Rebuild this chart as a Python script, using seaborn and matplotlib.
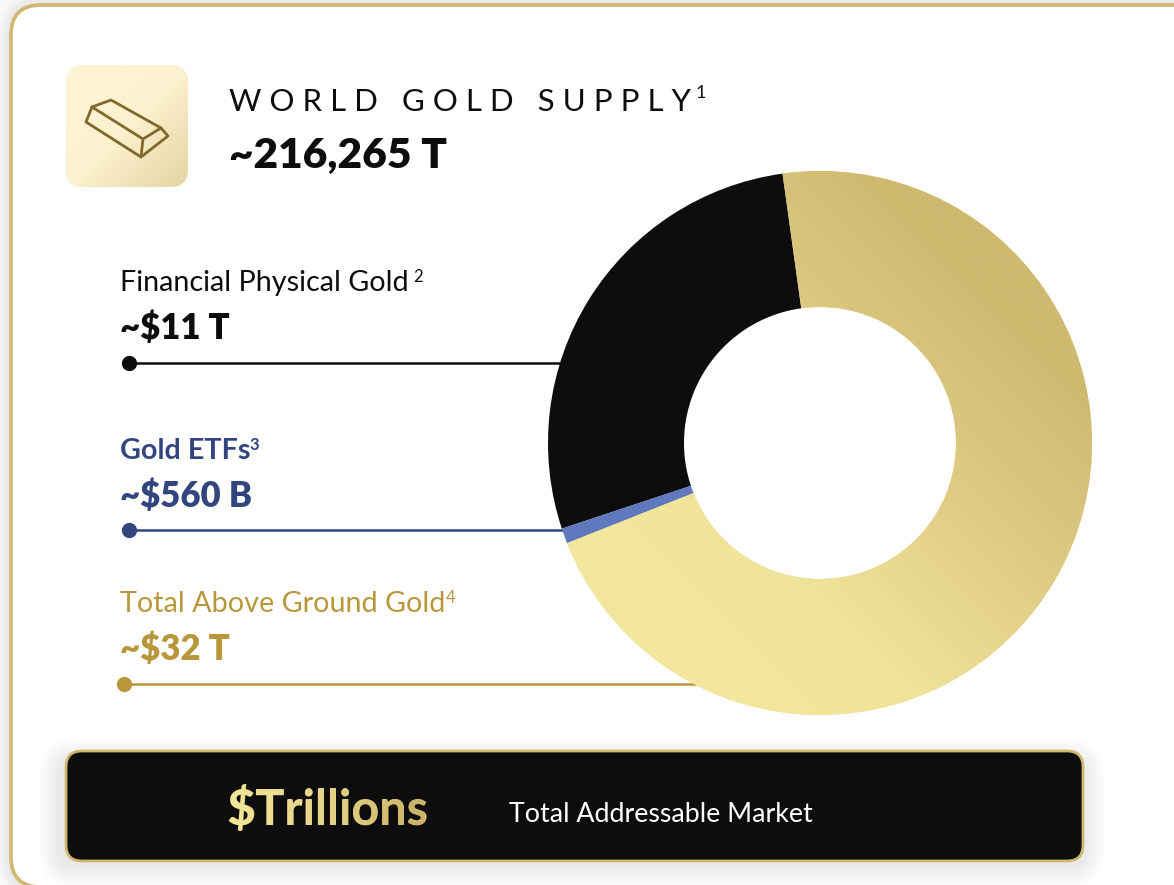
import numpy as np
import seaborn as sns
import matplotlib.pyplot as plt
from matplotlib.patches import FancyBboxPatch, PathPatch
from matplotlib.textpath import TextPath
from matplotlib.font_manager import FontProperties
from matplotlib.transforms import Affine2D

# share of the ring (percent)
segments = ['Total Above Ground Gold', 'Financial Physical Gold', 'Gold ETFs']
shares = [71.2, 27.9, 0.9]
segment_colors = ['#E6D48C', '#0D0D0D', '#5F78BE']

labels = ['Financial Physical Gold', 'Gold ETFs', 'Total Above Ground Gold']
label_values = ['~$11 T', '~$560 B', '~$32 T']
label_notes = ['2', '3', '4']

title = 'W O R L D   G O L D   S U P P L Y'
title_value = '~216,265 T'

GOLD = '#D0B96F'
NAVY = '#33457F'
DARK_GOLD = '#B8973B'
BLACK = '#0D0D0D'

sns.set_theme(style='white')
plt.rcParams['font.family'] = ['Lato', 'DejaVu Sans']

W, H = 1174, 885
fig = plt.figure(figsize=(W / 100, H / 100), dpi=100, facecolor='#F8F8F8')
ax = fig.add_axes([0, 0, 1, 1])
ax.set_xlim(0, W)
ax.set_ylim(H, 0)
ax.axis('off')


def rounded(x0, y0, x1, y1, r, **kw):
    p = FancyBboxPatch((x0 + r, y0 + r), x1 - x0 - 2 * r, y1 - y0 - 2 * r,
                       boxstyle=f'round,pad={r},rounding_size={r}', **kw)
    ax.add_patch(p)
    return p


def soft_shadow(x0, y0, x1, y1, r, spread, alpha, zorder):
    for i in range(spread, 0, -2):
        rounded(x0 - i, y0 - i, x1 + i, y1 + i, r + i, fc='black', ec='none',
                alpha=alpha, zorder=zorder)


def diagonal(n=200):
    xx, yy = np.meshgrid(np.linspace(0, 1, n), np.linspace(0, 1, n))
    return xx + yy


# card
soft_shadow(11, 5, 1400, 887, 30, 12, 0.012, 1)
rounded(11, 5, 1400, 887, 30, fc='white', ec=GOLD, lw=2.6, zorder=2)

# icon
icon_cmap = sns.blend_palette(['#FFF5D6', '#FDF1CF', '#E2D4A3'], as_cmap=True)
icon_box = rounded(66, 65, 188, 187, 18, fc='#F6ECC8', ec='none', zorder=3)
im = ax.imshow(diagonal(), cmap=icon_cmap, extent=(66, 188, 187, 65), aspect='auto', zorder=3.1)
im.set_clip_path(icon_box)
bar_x = [92, 111, 161, 168, 141, 86, 92, 143, 161]
bar_y = [107, 100, 128, 136, 157, 122, 107, 139, 128]
ax.plot(bar_x, bar_y, color='#7F6A2C', lw=2, zorder=4, solid_joinstyle='round')
ax.plot([143, 141], [139, 157], color='#7F6A2C', lw=2, zorder=4)

# heading
ax.text(229, 111, title, fontsize=22.5, color=BLACK, va='baseline', zorder=5)
ax.text(696, 98, '1', fontsize=13, color=BLACK, va='baseline', zorder=5)
ax.text(229, 168, title_value, fontsize=30.5, fontweight=800, color=BLACK, va='baseline', zorder=5)

# labels and leader lines
label_colors = [BLACK, NAVY, DARK_GOLD]
label_weights = ['normal', 'bold', 'normal']
note_weights = ['normal', 'bold', 'normal']
label_base = [291, 459, 612]
value_base = [339, 507, 660]
note_x = [413, 249, 446]
line_y = [363, 530, 684]
dot_x = [129, 129, 124]
line_end = [565, 570, 700]
for i in range(3):
    c = label_colors[i]
    ax.text(120, label_base[i], labels[i], fontsize=20.7, fontweight=label_weights[i], color=c, zorder=5)
    ax.text(note_x[i], label_base[i] - 9, label_notes[i], fontsize=12, fontweight=note_weights[i], color=c, zorder=5)
    ax.text(120, value_base[i], label_values[i], fontsize=25, fontweight=800, color=c, zorder=5)
    ax.plot([dot_x[i], line_end[i]], [line_y[i], line_y[i]], color=c, lw=1.8, zorder=3)
    ax.plot(dot_x[i], line_y[i], 'o', color=c, ms=11, mew=0, zorder=4)

# bottom bar, shadow sits low and to the left
soft_shadow(60, 760, 1083, 866, 16, 22, 0.006, 2.5)
rounded(66, 751, 1083, 861, 16, fc=BLACK, ec=GOLD, lw=2, zorder=3)
ax.text(509, 822, 'Total Addressable Market', fontsize=19.3, color='white', zorder=5)

# gradient word: real text below, gradient fill clipped to the same outline on top
word_size = 35
ax.text(227, 825, '$Trillions', fontsize=word_size, fontweight='bold', color='#E2D184', zorder=5)
fp = FontProperties(family='Lato', weight='bold')
tp = TextPath((0, 0), '$Trillions', size=word_size * 100 / 72, prop=fp)
word = PathPatch(tp, fc='none', ec='none',
                 transform=Affine2D().scale(1, -1).translate(227, 825) + ax.transData)
ax.add_patch(word)
word_cmap = sns.blend_palette(['#F2E79C', '#E6D488', '#C9B165'], as_cmap=True)
im = ax.imshow(np.linspace(0, 1, 200).reshape(1, -1), cmap=word_cmap,
               extent=(227, 425, 840, 780), aspect='auto', zorder=5.1)
im.set_clip_path(word)
ax.set_xlim(0, W)
ax.set_ylim(H, 0)

# donut
pad = 1.04
cx, cy, r = 820, 443, 272
pie_ax = fig.add_axes([(cx - r * pad) / W, 1 - (cy + r * pad) / H, 2 * r * pad / W, 2 * r * pad / H])
wedges, _ = pie_ax.pie(shares, colors=segment_colors, startangle=201.6, radius=1,
                       wedgeprops=dict(width=0.5, linewidth=0))
pie_ax.set_xlim(-pad, pad)
pie_ax.set_ylim(-pad, pad)
ring_cmap = sns.blend_palette(['#F2E79C', '#F0E49A', '#E6D48C', '#D9C67E', '#CFB96F'], as_cmap=True)
xx, yy = np.meshgrid(np.linspace(-1, 1, 400), np.linspace(1, -1, 400))
im = pie_ax.imshow(xx + yy, cmap=ring_cmap, extent=(-1, 1, -1, 1), vmin=-1.2, vmax=1.2, zorder=3)
im.set_clip_path(wedges[0])
pie_ax.set_xlim(-pad, pad)
pie_ax.set_ylim(-pad, pad)

fig.savefig('out.png', dpi=100, facecolor=fig.get_facecolor())
